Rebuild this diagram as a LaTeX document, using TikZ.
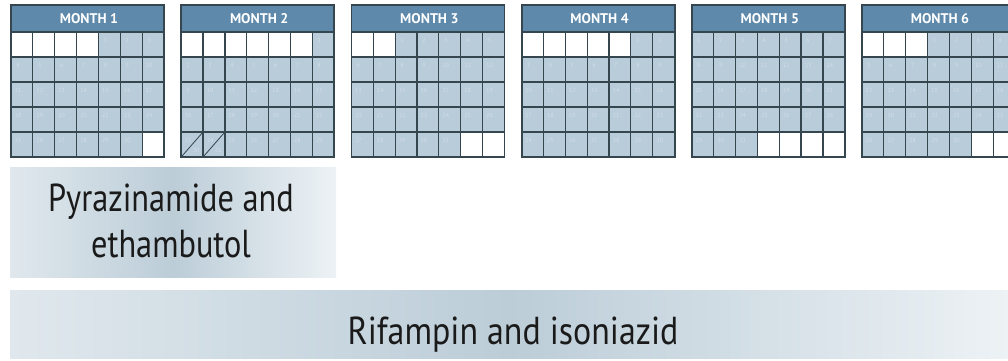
\documentclass[tikz,border=0pt]{standalone}
\usepackage{fontspec}
\setmainfont{PT Sans}
\newfontfamily\condfont[FakeStretch=0.83]{PT Sans}
\newfontfamily\widecondfont[FakeStretch=0.87]{PT Sans}
\definecolor{hdr}{HTML}{5E89AA}
\definecolor{cell}{HTML}{B9CCD9}
\definecolor{gridc}{HTML}{36464F}
\definecolor{daynum}{HTML}{D3DEE7}
\definecolor{bandlight}{HTML}{E0E8ED}
\definecolor{banddark}{HTML}{BCCDD8}
\definecolor{bandright}{HTML}{EDF2F5}
\definecolor{txt}{HTML}{1A1A1A}
\begin{document}
\begin{tikzpicture}[x=1pt,y=-1pt,
  header/.style={fill=hdr},
  monthlabel/.style={text=white,font=\fontsize{14}{14}\selectfont\bfseries},
  daylabel/.style={text=daynum,font=\fontsize{6}{6}\selectfont,inner sep=0pt},
  gridline/.style={draw=gridc,line width=1.2pt},
  frame/.style={draw=gridc,line width=1.8pt},
  slash/.style={draw=gridc,line width=0.8pt},
  band/.style={left color=bandlight,right color=bandright,middle color=banddark,draw=none,inner sep=0pt},
  drug/.style={text=txt,font=\condfont\fontsize{39}{46}\selectfont,align=center,inner sep=0pt}]
\useasboundingbox (0,0) rectangle (1008,360);
\fill[white] (0,0) rectangle (1008,360);
\def\cw{21.857}
\foreach \m/\s/\n in {1/4/30,2/6/31,3/2/31,4/5/30,5/0/31,6/3/30}{
  \pgfmathsetmacro\xo{11+(\m-1)*170.2}
  \fill[cell] (\xo,32) rectangle ++(153,125);
  \fill[header] (\xo,5) rectangle ++(153,27);
  \node[monthlabel] (mlab\m) at (\xo+78,18.5) {MONTH \m};
  \foreach \k in {0,...,34}{
    \pgfmathtruncatemacro\dd{\k-\s+1}
    \pgfmathtruncatemacro\cc{mod(\k,7)}
    \pgfmathtruncatemacro\rr{div(\k,7)}
    \pgfmathsetmacro\cx{\xo+\cc*\cw}
    \pgfmathsetmacro\cy{32+\rr*25}
    \ifnum\dd<1 \fill[white] (\cx,\cy) rectangle ++(\cw,25);
    \else\ifnum\dd>\n \fill[white] (\cx,\cy) rectangle ++(\cw,25);
    \else \node[daylabel] (d\m-\k) at (\cx+7,\cy+8) {\dd};
    \fi\fi
  }
  \foreach \i in {1,...,6}{
    \draw[gridline] (\xo+\i*\cw,32) -- (\xo+\i*\cw,157);
  }
  \foreach \j in {0,...,4}{
    \draw[gridline] (\xo,32+\j*25) -- (\xo+153,32+\j*25);
  }
  \draw[frame] (\xo,5) rectangle (\xo+153,157);
}
% month 2: wrapped days 30 and 31
\pgfmathsetmacro\xt{11+170.2}
\node[daylabel] (d2-30) at (\xt+15,150) {30};
\node[daylabel] (d2-31) at (\xt+\cw+15,150) {31};
\draw[slash] (\xt,157) -- (\xt+\cw,132);
\draw[slash] (\xt+\cw,157) -- (\xt+2*\cw,132);
% drug bands
\node[band,minimum width=326pt,minimum height=110pt] (pyrbox) at (173,222) {};
\node[drug] (pyr) at (171,221) {Pyrazinamide and\\ethambutol};
\node[band,minimum width=1000pt,minimum height=68pt] (rifbox) at (510,324) {};
\node[drug,font=\widecondfont\fontsize{39}{46}\selectfont,anchor=base] (rif) at (513,344) {Rifampin and isoniazid};
\end{tikzpicture}
\end{document}
